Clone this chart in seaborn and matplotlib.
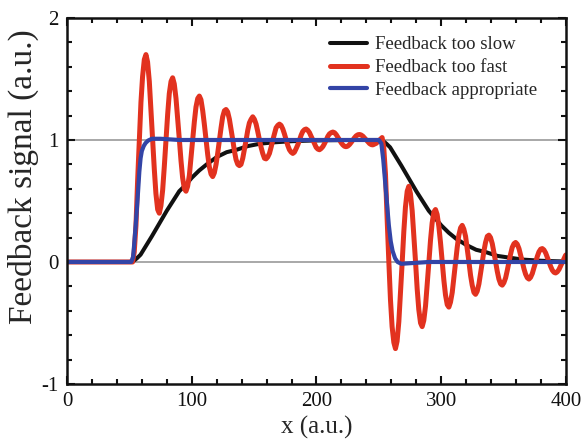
import numpy as np
import pandas as pd
import matplotlib
matplotlib.use("Agg")
import matplotlib.pyplot as plt
from matplotlib.ticker import MultipleLocator
import seaborn as sns

# ---- data ----
slow_x = [0, 50, 53, 56, 59, 62, 65, 68, 72, 76, 80, 85, 90, 95, 100, 106, 112,
          120, 128, 136, 145, 155, 165, 180, 195, 210, 230, 250,
          253, 256, 259, 262, 265, 268, 272, 276, 280, 285, 290, 295, 300, 306,
          312, 320, 328, 336, 345, 355, 365, 380, 395, 400]
slow_y = [0, 0, 0.005, 0.03, 0.06, 0.11, 0.16, 0.21, 0.28, 0.35, 0.42, 0.50, 0.58,
          0.63, 0.69, 0.75, 0.80, 0.86, 0.90, 0.92, 0.95, 0.97, 0.98, 0.99, 0.995,
          0.998, 1.0, 1.0,
          0.995, 0.97, 0.94, 0.89, 0.84, 0.79, 0.72, 0.65, 0.58, 0.50, 0.42, 0.36,
          0.30, 0.24, 0.19, 0.14, 0.10, 0.08, 0.05, 0.035, 0.02, 0.01, 0.005, 0.004]

# one half-oscillation per line
fast_x = [0, 50,
          52.6, 53.9, 55.3, 56.6, 58.0, 59.3, 60.6, 62.0,
          63.3, 64.6, 66.0, 67.3, 68.7, 70.0, 71.3, 72.7,
          74.0, 75.3, 76.7, 78.0, 79.4, 80.7, 82.0, 83.4,
          84.7, 86.0, 87.4, 88.7, 90.1, 91.4, 92.7, 94.1,
          95.4, 96.7, 98.1, 99.4, 100.8, 102.1, 103.4, 104.8,
          106.1, 107.4, 108.8, 110.1, 111.5, 112.8, 114.1, 115.5,
          116.8, 118.1, 119.5, 120.8, 122.2, 123.5, 124.8, 126.2,
          127.5, 128.8, 130.2, 131.5, 132.9, 134.2, 135.5, 136.9,
          138.2, 139.5, 140.9, 142.2, 143.6, 144.9, 146.2, 147.6,
          148.9, 150.2, 151.6, 152.9, 154.3, 155.6, 156.9, 158.3,
          159.6, 160.9, 162.3, 163.6, 165.0, 166.3, 167.6, 169.0,
          170.3, 171.6, 173.0, 174.3, 175.7, 177.0, 178.3, 179.7,
          181.0, 182.3, 183.7, 185.0, 186.4, 187.7, 189.0, 190.4,
          191.7, 193.0, 194.4, 195.7, 197.1, 198.4, 199.7, 201.1,
          202.4, 203.7, 205.1, 206.4, 207.8, 209.1, 210.4, 211.8,
          213.1, 214.4, 215.8, 217.1, 218.5, 219.8, 221.1, 222.5,
          223.8, 225.1, 226.5, 227.8, 229.2, 230.5, 231.8, 233.2,
          234.5, 235.8, 237.2, 238.5, 239.9, 241.2, 242.5, 243.9,
          245.2, 246.5, 247.9, 249.2, 250.6, 251.9,
          252.6, 253.9, 255.3, 256.6, 258.0, 259.3, 260.6, 262.0,
          263.3, 264.6, 266.0, 267.3, 268.7, 270.0, 271.3, 272.7,
          274.0, 275.3, 276.7, 278.0, 279.4, 280.7, 282.0, 283.4,
          284.7, 286.0, 287.4, 288.7, 290.1, 291.4, 292.7, 294.1,
          295.4, 296.7, 298.1, 299.4, 300.8, 302.1, 303.4, 304.8,
          306.1, 307.4, 308.8, 310.1, 311.5, 312.8, 314.1, 315.5,
          316.8, 318.1, 319.5, 320.8, 322.2, 323.5, 324.8, 326.2,
          327.5, 328.8, 330.2, 331.5, 332.9, 334.2, 335.5, 336.9,
          338.2, 339.5, 340.9, 342.2, 343.6, 344.9, 346.2, 347.6,
          348.9, 350.2, 351.6, 352.9, 354.3, 355.6, 356.9, 358.3,
          359.6, 360.9, 362.3, 363.6, 365.0, 366.3, 367.6, 369.0,
          370.3, 371.6, 373.0, 374.3, 375.7, 377.0, 378.3, 379.7,
          381.0, 382.3, 383.7, 385.0, 386.4, 387.7, 389.0, 390.4,
          391.7, 393.0, 394.4, 395.7, 397.1, 398.4, 399.7, 400.0]
fast_y = [0, 0,
          0.0, 0.08, 0.30, 0.66, 1.0, 1.31, 1.52, 1.66,
          1.70, 1.64, 1.48, 1.25, 1.0, 0.76, 0.56, 0.43,
          0.40, 0.46, 0.59, 0.78, 1.0, 1.21, 1.38, 1.48,
          1.51, 1.46, 1.34, 1.18, 1.0, 0.83, 0.69, 0.60,
          0.58, 0.62, 0.71, 0.85, 1.0, 1.15, 1.27, 1.34,
          1.36, 1.33, 1.24, 1.13, 1.0, 0.88, 0.78, 0.72,
          0.70, 0.73, 0.80, 0.89, 1.0, 1.10, 1.19, 1.24,
          1.25, 1.23, 1.17, 1.09, 1.0, 0.91, 0.84, 0.80,
          0.79, 0.80, 0.85, 0.92, 1.0, 1.08, 1.14, 1.17,
          1.19, 1.17, 1.13, 1.07, 1.0, 0.94, 0.89, 0.85,
          0.845, 0.86, 0.89, 0.94, 1.0, 1.05, 1.10, 1.12,
          1.13, 1.12, 1.09, 1.05, 1.0, 0.955, 0.92, 0.90,
          0.89, 0.90, 0.93, 0.96, 1.0, 1.04, 1.07, 1.085,
          1.09, 1.08, 1.06, 1.03, 1.0, 0.97, 0.94, 0.925,
          0.92, 0.93, 0.946, 0.97, 1.0, 1.03, 1.05, 1.06,
          1.065, 1.06, 1.044, 1.023, 1.0, 0.977, 0.96, 0.948,
          0.945, 0.95, 0.963, 0.98, 1.0, 1.019, 1.034, 1.043,
          1.045, 1.041, 1.031, 1.016, 1.0, 0.984, 0.971, 0.962,
          0.96, 0.966, 0.973, 0.986, 1.0, 1.013,
          1.02, 0.94, 0.72, 0.36, 0.0, -0.31, -0.53, -0.66,
          -0.71, -0.65, -0.49, -0.26, 0.0, 0.25, 0.45, 0.58,
          0.62, 0.56, 0.42, 0.22, 0.0, -0.22, -0.39, -0.50,
          -0.53, -0.48, -0.36, -0.19, 0.0, 0.18, 0.32, 0.41,
          0.43, 0.39, 0.29, 0.16, 0.0, -0.15, -0.27, -0.35,
          -0.37, -0.33, -0.25, -0.13, 0.0, 0.12, 0.22, 0.28,
          0.30, 0.27, 0.21, 0.11, 0.0, -0.11, -0.19, -0.25,
          -0.265, -0.24, -0.18, -0.095, 0.0, 0.09, 0.16, 0.21,
          0.22, 0.20, 0.15, 0.08, 0.0, -0.077, -0.14, -0.18,
          -0.19, -0.17, -0.13, -0.07, 0.0, 0.066, 0.12, 0.15,
          0.16, 0.146, 0.11, 0.058, 0.0, -0.056, -0.10, -0.13,
          -0.14, -0.126, -0.094, -0.049, 0.0, 0.046, 0.083, 0.105,
          0.11, 0.099, 0.074, 0.039, 0.0, -0.037, -0.067, -0.085,
          -0.09, -0.081, -0.061, -0.032, 0.0, 0.03, 0.056, 0.058]

ok_x = [0, 50, 51.5, 53, 54, 55, 56, 57, 58, 59, 60, 61.5, 63, 65, 68, 75, 90,
        250, 252, 253.5, 255, 256.5, 258, 259.5, 261, 263, 265, 268, 275, 290, 400]
ok_y = [0, 0, 0.0, 0.04, 0.16, 0.29, 0.43, 0.58, 0.74, 0.85, 0.91, 0.95, 0.975,
        0.995, 1.01, 1.01, 1.0,
        1.0, 0.97, 0.84, 0.66, 0.48, 0.30, 0.17, 0.09, 0.03, 0.0, -0.015, -0.01,
        0.0, 0.0]

ref_levels = [0, 1]
labels = ["Feedback too slow", "Feedback too fast", "Feedback appropriate"]
colors = ["#111111", "#e2321f", "#3344a6"]

sns.set_style("ticks")
plt.rcParams["font.family"] = ["Liberation Serif", "DejaVu Serif"]
plt.rcParams["axes.unicode_minus"] = False

fig, ax = plt.subplots(figsize=(5.88, 4.41), dpi=100)
fig.subplots_adjust(left=0.1139, right=0.9626, top=0.9592, bottom=0.1293)

for lvl in ref_levels:
    ax.axhline(lvl, color="#a8a8a8", lw=1.4, zorder=0)

series = [(slow_x, slow_y), (fast_x, fast_y), (ok_x, ok_y)]
widths = [2.9, 3.6, 3.0]
for (xs, ys), lab, col, w in zip(series, labels, colors, widths):
    sns.lineplot(x=xs, y=ys, ax=ax, color=col, lw=w, label=lab,
                 estimator=None, sort=False)

ax.set_xlim(0, 400)
ax.set_ylim(-1, 2)
ax.xaxis.set_major_locator(MultipleLocator(100))
ax.xaxis.set_minor_locator(MultipleLocator(20))
ax.yaxis.set_major_locator(MultipleLocator(1))
ax.yaxis.set_minor_locator(MultipleLocator(0.2))
ax.tick_params(which="both", direction="in", top=True, right=True,
               width=1.5, colors="#111111", labelsize=15, pad=6)
ax.tick_params(which="major", length=6)
ax.tick_params(which="minor", length=3.5)
for sp in ax.spines.values():
    sp.set_linewidth(1.8)
    sp.set_color("#111111")

ax.set_xlabel("x (a.u.)", fontsize=18, labelpad=3)
ax.set_ylabel("Feedback signal (a.u.)", fontsize=24)
ax.yaxis.set_label_coords(-0.057, 0.566)

ax.legend(loc="upper left", bbox_to_anchor=(0.527, 0.95), frameon=False,
          fontsize=13.5, handlelength=2.0, handletextpad=0.4,
          labelspacing=0.3, borderpad=0, borderaxespad=0)

fig.savefig("out.png", dpi=100)
